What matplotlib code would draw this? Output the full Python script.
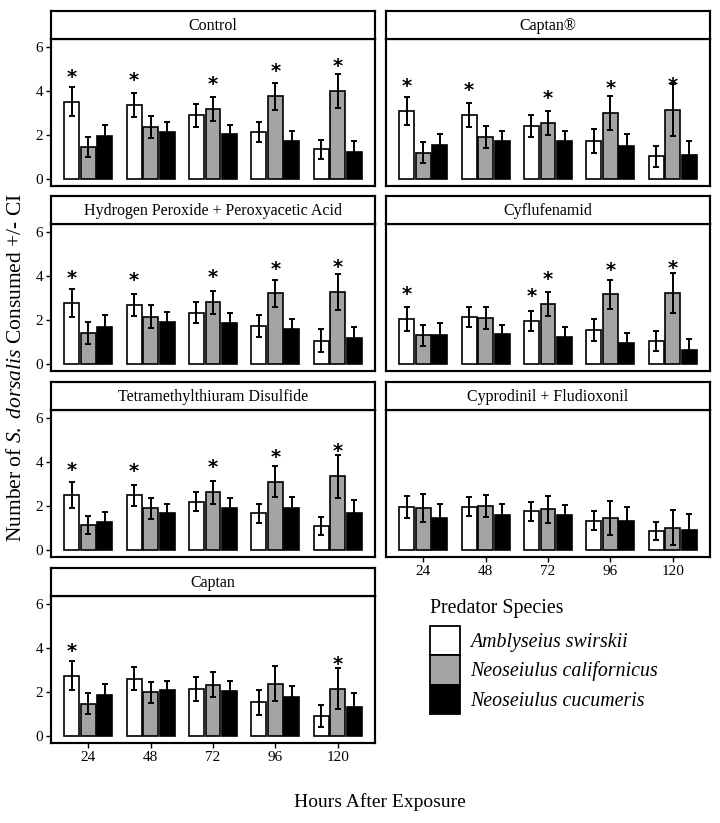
import matplotlib.pyplot as plt
from matplotlib.patches import Patch
import numpy as np

plt.rcParams['font.family'] = ['Liberation Serif', 'DejaVu Serif']
plt.rcParams['mathtext.fontset'] = 'custom'
plt.rcParams['mathtext.rm'] = 'Liberation Serif'
plt.rcParams['mathtext.it'] = 'Liberation Serif:italic'

hours = ["24", "48", "72", "96", "120"]
species = ["Amblyseius swirskii", "Neoseiulus californicus", "Neoseiulus cucumeris"]
colors = ["white", "#a4a4a4", "black"]

# rows: swirskii, californicus, cucumeris ; columns: hours
control_mean = [[3.52, 3.37, 2.89, 2.14, 1.36],
                [1.48, 2.35, 3.18, 3.76, 3.99],
                [1.96, 2.14, 2.07, 1.72, 1.26]]
control_ci = [[0.66, 0.54, 0.50, 0.47, 0.43],
              [0.45, 0.50, 0.56, 0.61, 0.78],
              [0.51, 0.44, 0.40, 0.47, 0.48]]

captanr_mean = [[3.09, 2.91, 2.41, 1.74, 1.05],
                [1.20, 1.92, 2.56, 3.00, 3.13],
                [1.54, 1.74, 1.74, 1.50, 1.11]]
captanr_ci = [[0.65, 0.54, 0.50, 0.53, 0.48],
              [0.48, 0.49, 0.55, 0.78, 1.18],
              [0.50, 0.45, 0.45, 0.54, 0.63]]

h2o2_mean = [[2.79, 2.70, 2.34, 1.72, 1.07],
             [1.40, 2.16, 2.81, 3.21, 3.27],
             [1.70, 1.92, 1.89, 1.61, 1.19]]
h2o2_ci = [[0.63, 0.50, 0.48, 0.50, 0.51],
           [0.50, 0.52, 0.53, 0.62, 0.82],
           [0.53, 0.43, 0.43, 0.45, 0.48]]

cyflu_mean = [[2.04, 2.14, 1.96, 1.55, 1.06],
              [1.31, 2.10, 2.75, 3.17, 3.24],
              [1.31, 1.36, 1.24, 0.95, 0.63]]
cyflu_ci = [[0.55, 0.45, 0.45, 0.48, 0.47],
            [0.48, 0.49, 0.54, 0.66, 0.90],
            [0.57, 0.42, 0.44, 0.48, 0.53]]

tmtd_mean = [[2.50, 2.49, 2.20, 1.67, 1.09],
             [1.15, 1.90, 2.64, 3.11, 3.36],
             [1.27, 1.67, 1.92, 1.93, 1.67]]
tmtd_ci = [[0.59, 0.48, 0.42, 0.45, 0.40],
           [0.42, 0.48, 0.52, 0.70, 0.97],
           [0.48, 0.44, 0.47, 0.50, 0.63]]

cypro_mean = [[1.97, 1.98, 1.76, 1.33, 0.88],
              [1.92, 2.01, 1.85, 1.48, 1.03],
              [1.47, 1.62, 1.58, 1.33, 0.94]]
cypro_ci = [[0.50, 0.42, 0.42, 0.43, 0.42],
            [0.62, 0.50, 0.63, 0.77, 0.80],
            [0.62, 0.48, 0.48, 0.62, 0.71]]

captan_mean = [[2.75, 2.60, 2.16, 1.54, 0.92],
               [1.48, 1.99, 2.33, 2.39, 2.16],
               [1.86, 2.08, 2.05, 1.78, 1.34]]
captan_ci = [[0.64, 0.52, 0.54, 0.58, 0.50],
             [0.47, 0.46, 0.57, 0.80, 0.92],
             [0.50, 0.44, 0.47, 0.51, 0.60]]

# significance stars: (hour index, species index)
control_stars = [(0, 0), (1, 0), (2, 1), (3, 1), (4, 1)]
captanr_stars = [(0, 0), (1, 0), (2, 1), (3, 1), (4, 1)]
h2o2_stars = [(0, 0), (1, 0), (2, 1), (3, 1), (4, 1)]
cyflu_stars = [(0, 0), (2, 0), (2, 1), (3, 1), (4, 1)]
tmtd_stars = [(0, 0), (1, 0), (2, 1), (3, 1), (4, 1)]
cypro_stars = []
captan_stars = [(0, 0), (4, 1)]

panels = [
    ("Control", control_mean, control_ci, control_stars, 0, 0),
    ("Captan\u00ae", captanr_mean, captanr_ci, captanr_stars, 1, 0),
    ("Hydrogen Peroxide + Peroxyacetic Acid", h2o2_mean, h2o2_ci, h2o2_stars, 0, 1),
    ("Cyflufenamid", cyflu_mean, cyflu_ci, cyflu_stars, 1, 1),
    ("Tetramethylthiuram Disulfide", tmtd_mean, tmtd_ci, tmtd_stars, 0, 2),
    ("Cyprodinil + Fludioxonil", cypro_mean, cypro_ci, cypro_stars, 1, 2),
    ("Captan", captan_mean, captan_ci, captan_stars, 0, 3),
]

W, H = 720, 823
fig = plt.figure(figsize=(W / 100, H / 100), dpi=100)

col_left = [51, 386]
panel_w = 324
strip_top = [11, 196, 382, 568]
strip_h = 28
plot_h = 147
lw = 1.3

x = np.arange(len(hours))
offsets = [-0.265, 0, 0.265]

for title, mean, ci, stars, col, row in panels:
    left = col_left[col] / W
    top = strip_top[row]
    ax = fig.add_axes([left, 1 - (top + strip_h + plot_h) / H, panel_w / W, plot_h / H])
    sax = fig.add_axes([left, 1 - (top + strip_h) / H, panel_w / W, strip_h / H])
    sax.set_xticks([])
    sax.set_yticks([])
    for s in sax.spines.values():
        s.set_linewidth(lw * 1.2)
    sax.text(0.5, 0.45, title, ha="center", va="center", fontsize=11.5, transform=sax.transAxes)

    for i in range(3):
        ax.bar(x + offsets[i], mean[i], width=0.24, color=colors[i], edgecolor="black", linewidth=1.2, zorder=2)
        ax.errorbar(x + offsets[i], mean[i], yerr=ci[i], fmt="none", ecolor="black",
                    elinewidth=1.4, capsize=2.5, capthick=1.4, zorder=3)
    for h, sp in stars:
        ax.text(x[h] + offsets[sp], mean[sp][h] + 0.85, "*", ha="center", va="baseline",
                fontsize=14, family="DejaVu Sans", fontweight="bold", zorder=4)

    ax.set_xlim(-0.6, 4.6)
    ax.set_ylim(-0.3, 6.35)
    for s in ax.spines.values():
        s.set_linewidth(lw * 1.2)
    ax.tick_params(length=3.5, width=1, labelsize=11, pad=2)
    if col == 0:
        ax.set_yticks([0, 2, 4, 6])
    else:
        ax.set_yticks([])
    if row == 3 or (col == 1 and row == 2):
        ax.set_xticks(x)
        ax.set_xticklabels(hours)
    else:
        ax.set_xticks([])

fig.text(17 / W, 1 - 368 / H, r"Number of $\mathit{S.\ dorsalis}$ Consumed +/- CI",
         rotation=90, ha="center", va="center", fontsize=15.5)
fig.text(380 / W, 1 - 802 / H, "Hours After Exposure", ha="center", va="center", fontsize=14)

fig.text(430 / W, 1 - 608 / H, "Predator Species", ha="left", va="center", fontsize=14.3)
handles = [Patch(facecolor=c, edgecolor="black", linewidth=1.3, label=l) for c, l in zip(colors, species)]
leg = fig.legend(handles=handles, loc="upper left",
                 bbox_to_anchor=(430 / W, 1 - 626 / H), frameon=False, borderpad=0,
                 prop={"style": "italic", "size": 14.3},
                 handlelength=1.5, handleheight=1.9, labelspacing=0, handletextpad=0.5,
                 borderaxespad=0)

fig.savefig("out.png", dpi=100)
